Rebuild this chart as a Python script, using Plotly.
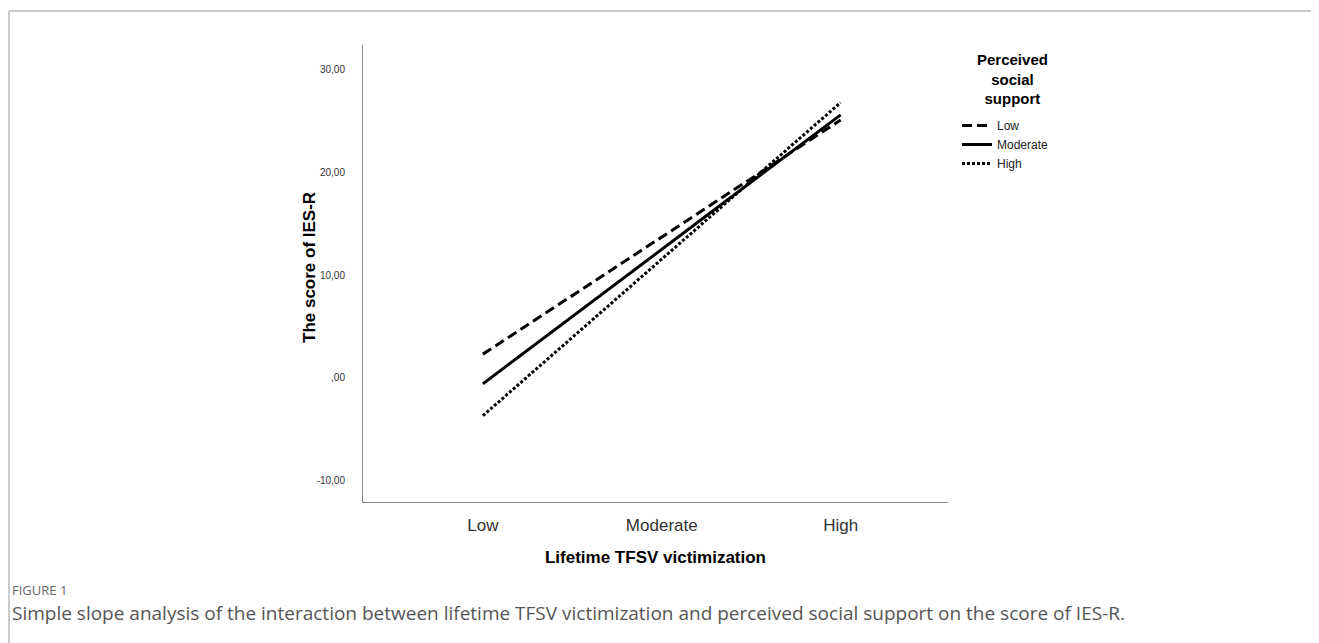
import plotly.graph_objects as go

# Data
categories = ["Low", "Moderate", "High"]
x_points = ["Low", "High"]
support_levels = ["Low", "Moderate", "High"]
ies_low_support = [2.3, 25.1]
ies_moderate_support = [-0.6, 25.6]
ies_high_support = [-3.7, 26.8]
y_tick_vals = [-10, 0, 10, 20, 30]
y_tick_text = ["-10,00", ",00", "10,00", "20,00", "30,00"]

series = [ies_low_support, ies_moderate_support, ies_high_support]
dashes = ["10px,5px", "solid", "3px,2px"]

FONT = "Arial, Liberation Sans, sans-serif"

fig = go.Figure()
for name, vals, d in zip(support_levels, series, dashes):
    fig.add_trace(go.Scatter(
        x=x_points, y=vals, mode="lines", name=name,
        line=dict(color="black", width=3, dash=d),
    ))

OFF = 8  # page body margin
W, H = 1319 - OFF, 643 - OFF
L, R, T, B = 363 - OFF, 948 - OFF, 45 - OFF, 502 - OFF
pw, ph = R - L, B - T

def px_x(v):
    return (v - OFF - L) / pw

def px_y(v):
    return (B - (v - OFF)) / ph

fig.update_layout(
    width=W, height=H,
    margin=dict(l=L, r=W - R, t=T, b=H - B),
    paper_bgcolor="white", plot_bgcolor="white",
    font=dict(family=FONT, color="#222"),
    showlegend=True,
    legend=dict(
        x=px_x(957), y=px_y(111), xanchor="left", yanchor="top",
        font=dict(family=FONT, size=12, color="#222"),
        bgcolor="rgba(0,0,0,0)",
        tracegroupgap=0,
    ),
    xaxis=dict(
        type="category", categoryorder="array", categoryarray=categories,
        range=[-0.67, 2.6],
        showline=True, linecolor="#888", linewidth=1,
        showgrid=False, zeroline=False,
        ticks="outside", ticklen=8, tickcolor="rgba(0,0,0,0)",
        tickfont=dict(family=FONT, size=17, color="#333"),
        title=dict(text="<b>Lifetime TFSV victimization</b>",
                   font=dict(family=FONT, size=17, color="black"), standoff=16),
    ),
    yaxis=dict(
        range=[-12.1, 32.4],
        tickmode="array", tickvals=y_tick_vals, ticktext=y_tick_text,
        showline=True, linecolor="#888", linewidth=1,
        showgrid=False, zeroline=False,
        ticks="outside", ticklen=15, tickcolor="rgba(0,0,0,0)",
        tickfont=dict(family=FONT, size=10, color="#333"),
    ),
)

# Y axis title
fig.add_annotation(text="<b>The score of IES-R</b>", xref="paper", yref="paper",
                   x=px_x(309), y=px_y(268), textangle=-90,
                   xanchor="center", yanchor="middle", showarrow=False,
                   font=dict(family=FONT, size=17, color="black"))

# Legend title
fig.add_annotation(text="<b>Perceived<br>social<br>support</b>", xref="paper", yref="paper",
                   x=px_x(1012), y=px_y(79), xanchor="center", yanchor="middle",
                   align="center", showarrow=False,
                   font=dict(family=FONT, size=15, color="black"))

# Frame around the figure panel (left and top edges)
fig.add_shape(type="line", xref="paper", yref="paper",
              x0=px_x(9), x1=px_x(9), y0=px_y(11), y1=px_y(643),
              line=dict(color="#cccccc", width=2))
fig.add_shape(type="line", xref="paper", yref="paper",
              x0=px_x(9), x1=px_x(1319), y0=px_y(11), y1=px_y(11),
              line=dict(color="#cccccc", width=2))

# Caption
fig.add_annotation(text="FIGURE 1", xref="paper", yref="paper",
                   x=px_x(10), y=px_y(590), xanchor="left", yanchor="middle",
                   showarrow=False, font=dict(family="Open Sans, sans-serif", size=13, color="#666"))
fig.add_annotation(
    text="Simple slope analysis of the interaction between lifetime TFSV victimization and perceived social support on the score of IES-R.",
    xref="paper", yref="paper", x=px_x(10), y=px_y(613), xanchor="left", yanchor="middle",
    showarrow=False, font=dict(family="Open Sans, sans-serif", size=19, color="#555"))

fig.write_html("out.html")
